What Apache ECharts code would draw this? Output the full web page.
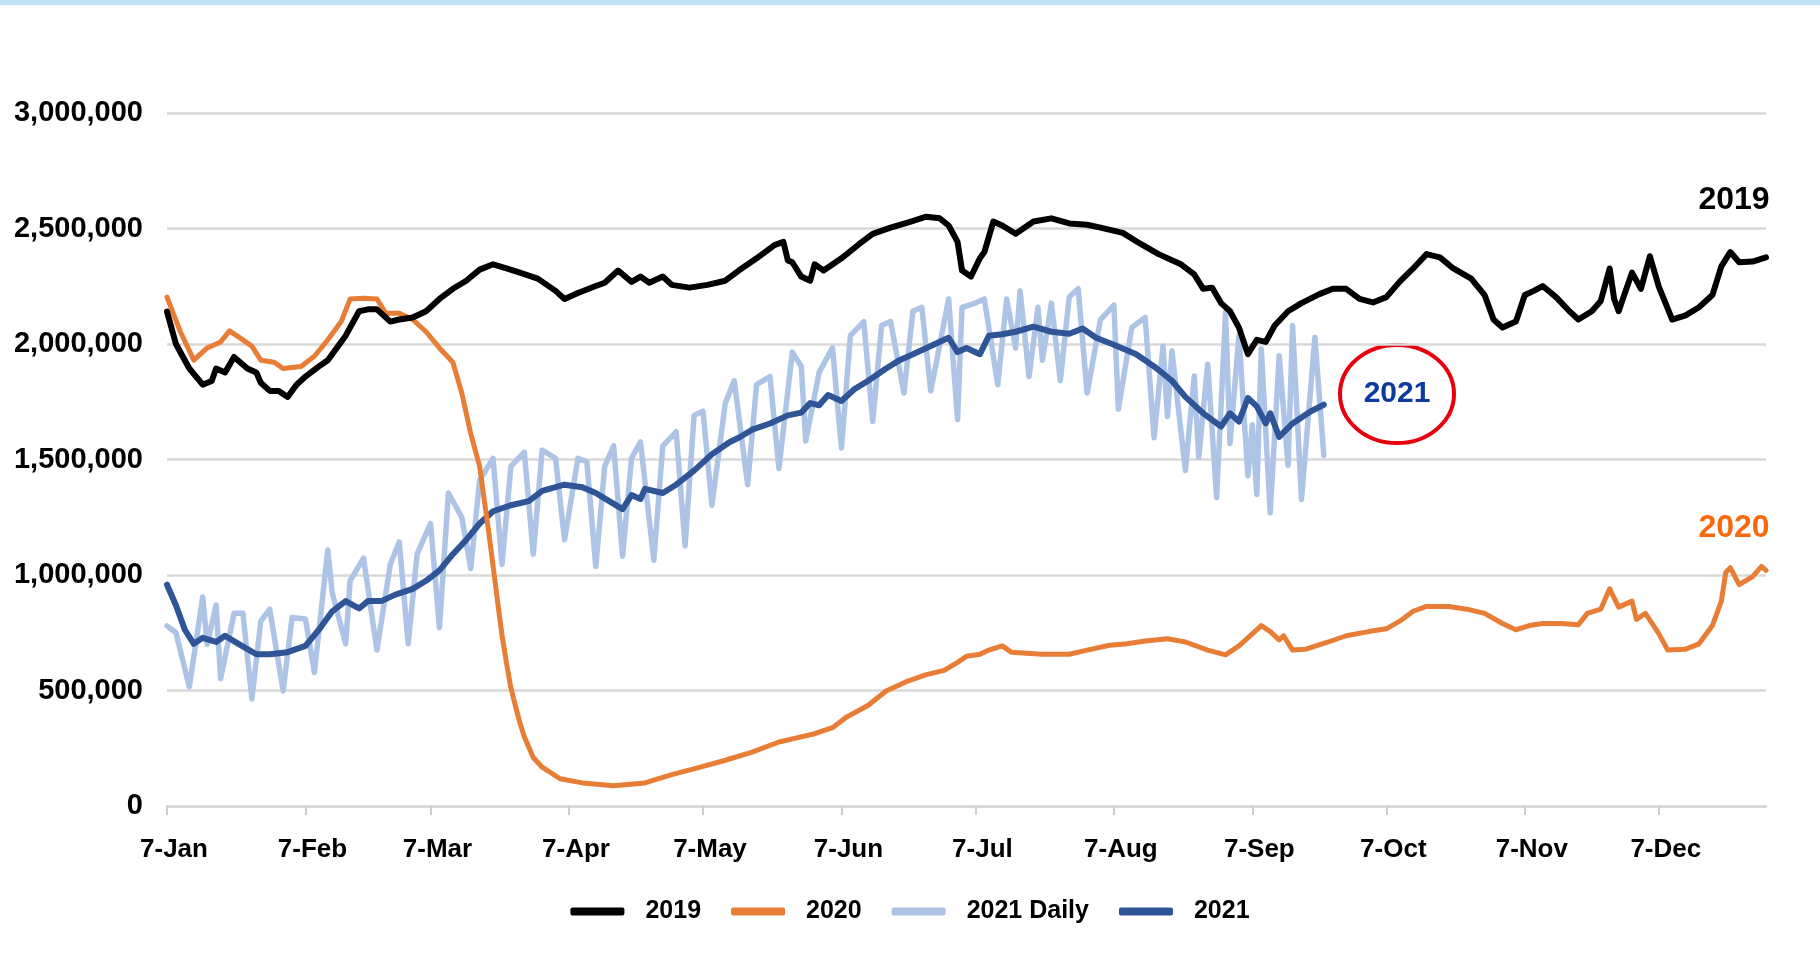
<!DOCTYPE html>
<html>
<head>
<meta charset="utf-8">
<title>Daily volume 2019 / 2020 / 2021</title>
<script src="https://cdn.jsdelivr.net/npm/echarts@6/dist/echarts.min.js"></script>
<style>
  html, body { margin: 0; padding: 0; background: #fff; }
  #chart { width: 1820px; height: 956px; }
</style>
</head>
<body>
<div id="chart"></div>
<script>
// x axis: one category per day, 7-Jan .. 31-Dec
const monthNames = ['Jan','Feb','Mar','Apr','May','Jun','Jul','Aug','Sep','Oct','Nov','Dec'];
const dayCount = 359;
const tickLabels = ['7-Jan','7-Feb','7-Mar','7-Apr','7-May','7-Jun','7-Jul','7-Aug','7-Sep','7-Oct','7-Nov','7-Dec'];
const yTicks = [0, 500000, 1000000, 1500000, 2000000, 2500000, 3000000];

// series values, [day index, value]
const y2019 = [
  [0,2140000],[2,2000000],[5,1894000],[8,1824000],[10,1840000],[11,1894000],[13,1877000],[15,1944000],
  [18,1894000],[20,1877000],[21,1832000],[23,1797000],[25,1797000],[27,1771000],[29,1824000],[31,1859000],
  [34,1903000],[36,1930000],[38,1983000],[40,2036000],[43,2142000],[45,2150000],[47,2150000],[50,2097000],
  [52,2106000],[55,2115000],[58,2142000],[61,2195000],[64,2239000],[67,2274000],[70,2322000],[73,2345000],
  [76,2327000],[79,2309000],[83,2283000],[87,2230000],[89,2195000],[92,2221000],[96,2251000],[98,2265000],
  [101,2318000],[104,2269000],[106,2292000],[108,2265000],[111,2292000],[113,2256000],[117,2244000],
  [121,2256000],[125,2274000],[128,2318000],[132,2371000],[136,2428000],[138,2442000],[139,2362000],
  [140,2354000],[142,2292000],[144,2274000],[145,2345000],[147,2318000],[151,2371000],[155,2433000],
  [158,2477000],[162,2504000],[166,2527000],[170,2551000],[173,2544000],[175,2513000],[177,2442000],
  [178,2318000],[180,2292000],[182,2371000],[183,2398000],[185,2530000],[187,2513000],[190,2477000],
  [194,2530000],[198,2544000],[202,2522000],[206,2516000],[209,2504000],[214,2481000],[218,2433000],
  [222,2389000],[227,2345000],[230,2301000],[232,2239000],[234,2244000],[236,2177000],[238,2142000],
  [240,2071000],[242,1956000],[244,2018000],[246,2009000],[248,2080000],[251,2142000],[254,2177000],
  [258,2216000],[261,2239000],[264,2239000],[267,2195000],[270,2180000],[273,2203000],[276,2270000],
  [279,2327000],[282,2389000],[285,2375000],[288,2327000],[292,2283000],[295,2212000],[297,2106000],
  [299,2071000],[302,2097000],[304,2212000],[306,2230000],[308,2251000],[311,2203000],[314,2142000],
  [316,2106000],[319,2142000],[321,2186000],[323,2327000],[324,2195000],[325,2142000],[328,2309000],
  [330,2239000],[332,2380000],[334,2248000],[337,2106000],[340,2124000],[343,2159000],[346,2212000],
  [348,2336000],[350,2398000],[352,2354000],[355,2357000],[358,2375000]
];

const y2020 = [
  [0,2203000],[3,2053000],[6,1930000],[9,1983000],[12,2009000],[14,2057000],[17,2018000],[19,1991000],
  [21,1930000],[24,1921000],[26,1894000],[30,1903000],[33,1947000],[36,2018000],[39,2097000],[41,2195000],
  [44,2198000],[47,2195000],[49,2133000],[52,2133000],[55,2106000],[58,2053000],[61,1983000],[64,1921000],
  [66,1788000],[68,1612000],[70,1470000],[71,1329000],[72,1190000],[73,1040000],[74,887000],[75,740000],
  [76,620000],[77,510000],[79,360000],[80,300000],[82,210000],[84,168000],[88,118000],[93,100000],
  [100,88000],[107,100000],[113,136000],[119,166000],[125,198000],[131,233000],[137,277000],[141,295000],
  [145,313000],[149,339000],[152,383000],[157,436000],[161,498000],[166,542000],[170,569000],[174,587000],
  [177,622000],[179,648000],[182,657000],[184,675000],[187,693000],[189,666000],[196,657000],[202,657000],
  [206,675000],[211,696000],[215,702000],[219,714000],[224,724000],[228,710000],[233,675000],[237,654000],
  [240,693000],[242,728000],[245,781000],[247,755000],[249,719000],[250,737000],[252,675000],[255,679000],
  [260,710000],[264,737000],[269,755000],[273,767000],[276,800000],[279,843000],[282,864000],[287,864000],
  [291,852000],[295,834000],[299,790000],[302,763000],[305,781000],[308,790000],[312,790000],[316,785000],
  [318,834000],[321,852000],[323,940000],[325,861000],[328,887000],[329,808000],[331,834000],[334,746000],
  [336,675000],[340,679000],[343,702000],[346,781000],[348,887000],[349,1011000],[350,1032000],
  [352,958000],[355,993000],[357,1037000],[358,1020000]
];

const y2021Daily = [
  [0,780000],[2,750000],[5,516000],[8,905000],[9,700000],[11,870000],[12,551000],[15,834000],[17,834000],
  [19,463000],[21,800000],[23,852000],[26,498000],[28,816000],[31,810000],[33,578000],[36,1108000],
  [37,922000],[40,702000],[41,975000],[44,1073000],[47,675000],[50,1046000],[52,1143000],[54,702000],
  [56,1090000],[59,1223000],[61,772000],[63,1355000],[66,1250000],[68,1028000],[70,1410000],[73,1505000],
  [75,1046000],[77,1470000],[80,1532000],[82,1090000],[84,1541000],[87,1505000],[89,1152000],[92,1505000],
  [94,1490000],[96,1037000],[98,1470000],[100,1559000],[102,1081000],[104,1505000],[106,1576000],
  [109,1064000],[111,1559000],[114,1620000],[116,1126000],[118,1691000],[120,1709000],[122,1302000],
  [125,1744000],[127,1841000],[130,1391000],[132,1824000],[135,1859000],[137,1461000],[140,1965000],
  [142,1903000],[143,1580000],[146,1877000],[149,1983000],[151,1550000],[153,2036000],[156,2097000],
  [158,1665000],[160,2080000],[162,2097000],[165,1788000],[167,2142000],[169,2159000],[171,1797000],
  [175,2195000],[177,1673000],[178,2159000],[181,2177000],[183,2195000],[186,1824000],[188,2195000],
  [190,1983000],[191,2230000],[193,1859000],[195,2159000],[196,1930000],[198,2177000],[200,1841000],
  [202,2203000],[204,2239000],[206,1788000],[209,2106000],[212,2168000],[213,1718000],[216,2071000],
  [219,2115000],[221,1594000],[223,1991000],[224,1686000],[225,1971000],[228,1452000],[230,1861000],
  [231,1510000],[233,1912000],[235,1335000],[237,2139000],[238,1569000],[240,2037000],[242,1430000],
  [243,1650000],[244,1349000],[245,1978000],[247,1269000],[249,1949000],[251,1474000],[252,2080000],
  [254,1327000],[257,2029000],[259,1518000]
];

const y2021 = [
  [0,958000],[2,869000],[4,763000],[6,702000],[8,728000],[11,710000],[13,737000],[16,702000],[20,657000],
  [23,657000],[27,666000],[31,693000],[34,763000],[37,843000],[40,887000],[43,855000],[45,887000],
  [48,887000],[51,914000],[55,940000],[58,975000],[61,1020000],[64,1090000],[67,1152000],[70,1223000],
  [73,1276000],[77,1302000],[81,1320000],[84,1364000],[89,1391000],[93,1380000],[96,1355000],[99,1320000],
  [102,1285000],[104,1346000],[106,1329000],[107,1373000],[111,1355000],[114,1391000],[118,1452000],
  [122,1523000],[126,1576000],[128,1594000],[131,1629000],[135,1656000],[139,1691000],[142,1703000],
  [144,1744000],[146,1735000],[148,1779000],[151,1753000],[154,1806000],[157,1841000],[161,1894000],
  [164,1930000],[167,1956000],[171,1991000],[175,2027000],[177,1965000],[179,1983000],[182,1956000],
  [184,2036000],[187,2042000],[190,2053000],[194,2075000],[198,2053000],[202,2044000],[205,2067000],
  [208,2027000],[212,1997000],[217,1956000],[221,1903000],[225,1841000],[228,1771000],[232,1700000],
  [236,1643000],[238,1700000],[240,1664000],[242,1766000],[244,1730000],[246,1656000],[247,1700000],
  [249,1598000],[252,1656000],[256,1708000],[259,1737000]
];

// build the day categories
const days = [];
for (let i = 0; i < dayCount; i++) {
  const d = new Date(Date.UTC(2021, 0, 7 + i));
  days.push(d.getUTCDate() + '-' + monthNames[d.getUTCMonth()]);
}

const FONT = '"Liberation Sans", Arial, sans-serif';
const GRID_GREY = '#d9d9d9';

const isTick = function (index, value) { return tickLabels.indexOf(value) !== -1; };

const chart = echarts.init(document.getElementById('chart'));

function lineSeries(name, data, color, width, z) {
  return {
    name: name,
    type: 'line',
    data: data,
    symbol: 'none',
    z: z,
    color: color,
    lineStyle: { color: color, width: width, join: 'round', cap: 'round' },
    emphasis: { disabled: true }
  };
}

chart.setOption({
  backgroundColor: '#ffffff',
  animation: false,
  textStyle: { fontFamily: FONT },
  grid: { left: 167, right: 54, top: 113, bottom: 150 },
  legend: {
    data: ['2019', '2020', '2021 Daily', '2021'],
    bottom: 27,
    left: 'center',
    icon: 'roundRect',
    itemWidth: 54,
    itemHeight: 8,
    itemGap: 30,
    textStyle: { fontSize: 25, fontWeight: 'bold', color: '#000', fontFamily: FONT, padding: [0, 0, 0, 16] }
  },
  xAxis: {
    type: 'category',
    data: days,
    boundaryGap: false,
    axisLine: { show: true, lineStyle: { color: GRID_GREY, width: 2.5 } },
    axisTick: { show: true, interval: isTick, length: 9, lineStyle: { color: '#cfcfcf', width: 2 } },
    axisLabel: {
      interval: isTick,
      margin: 31,
      fontSize: 26,
      fontWeight: 'bold',
      color: '#000',
      fontFamily: FONT,
      padding: [0, 0, 0, 14]
    },
    splitLine: { show: false }
  },
  yAxis: {
    type: 'value',
    min: yTicks[0],
    max: yTicks[yTicks.length - 1],
    interval: 500000,
    axisLine: { show: false },
    axisTick: { show: false },
    axisLabel: {
      margin: 24,
      fontSize: 29,
      fontWeight: 'bold',
      color: '#000',
      fontFamily: FONT,
      formatter: function (v) { return v.toLocaleString('en-US'); }
    },
    splitLine: { lineStyle: { color: GRID_GREY, width: 2.5 } }
  },
  series: [
    lineSeries('2021 Daily', y2021Daily, '#aec4e6', 5.5, 1),
    lineSeries('2021', y2021, '#2f5597', 6, 2),
    lineSeries('2020', y2020, '#e87d35', 5, 3),
    lineSeries('2019', y2019, '#000000', 6, 4)
  ],
  graphic: [
    // light strip along the top edge
    { type: 'rect', left: 0, top: 0, shape: { width: 1820, height: 5 }, style: { fill: '#bfe2f8' } },
    {
      type: 'text', x: 1734, y: 200,
      style: { text: '2019', fill: '#000', font: 'bold 32px ' + FONT, align: 'center', verticalAlign: 'middle' }
    },
    {
      type: 'text', x: 1734, y: 528,
      style: { text: '2020', fill: '#f7690f', font: 'bold 32px ' + FONT, align: 'center', verticalAlign: 'middle' }
    },
    {
      type: 'ellipse',
      shape: { cx: 1397, cy: 394, rx: 57, ry: 49 },
      style: { fill: 'none', stroke: '#e8000d', lineWidth: 4 }
    },
    {
      type: 'text', x: 1397, y: 394,
      style: { text: '2021', fill: '#0c3a9e', font: 'bold 30px ' + FONT, align: 'center', verticalAlign: 'middle' }
    }
  ]
});
</script>
</body>
</html>
